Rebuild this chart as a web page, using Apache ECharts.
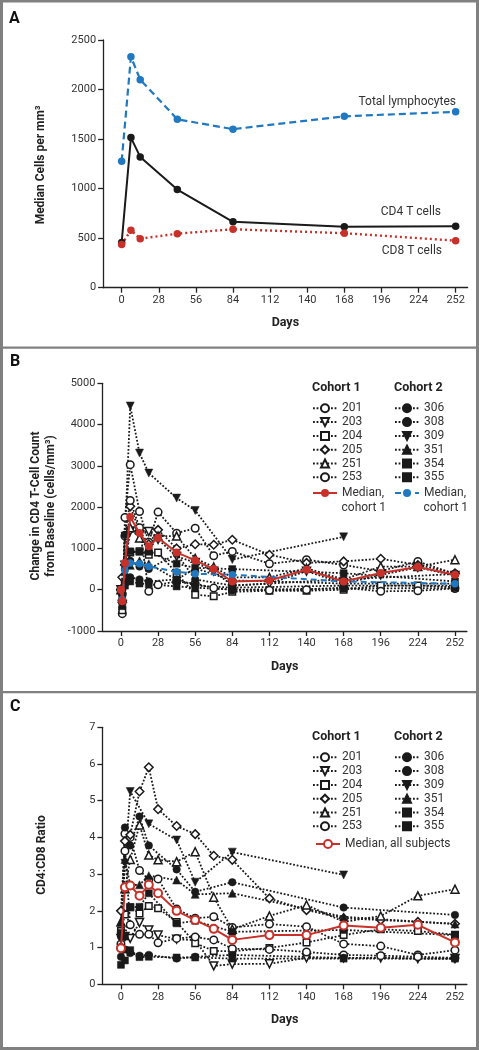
<!DOCTYPE html>
<html><head><meta charset="utf-8">
<script src="https://cdn.jsdelivr.net/npm/echarts@6/dist/echarts.min.js"></script>
<style>html,body{margin:0;padding:0;background:#fff}#c{width:479px;height:1050px}</style>
</head><body><div id="c"></div>
<script>
// ---------- Panel A ----------
const daysA = [0, 7, 14, 42, 84, 168, 252];
const totalLymph = [1275, 2330, 2100, 1700, 1600, 1730, 1775];
const cd4Cells = [455, 1515, 1320, 990, 665, 615, 620];
const cd8Cells = [435, 580, 495, 545, 590, 550, 475];

// ---------- Panel B (change in CD4 count) ----------
const daysB1 = [0, 1, 3, 7, 14, 21, 28, 42, 56, 70, 84, 112, 140, 168, 196, 224, 252];
const daysB2 = [0, 1, 3, 7, 14, 21, 42, 56, 84, 168, 252];
const b201 = [0, -580, 1750, 3030, 1895, 1150, 1880, 1370, 1490, 823, 928, 630, 726, 600, 450, 686, 380];
const b203 = [0, -360, 590, 1420, 1324, 1410, 1220, 806, 660, 450, 100, 150, 450, 150, 358, 540, 346];
const b204 = [0, -500, 200, 900, 930, 850, 900, 400, -120, -160, -50, -25, -25, 0, 100, 100, 60];
const b205 = [0, 300, 600, 2020, 1420, 1100, 1450, 1000, 1100, 1090, 1210, 847, 650, 686, 750, 600, 400];
const b251 = [0, -200, 700, 1500, 1250, 1000, 1300, 1300, 760, 550, 300, 300, 520, 250, 558, 560, 726];
const b253 = [0, -100, 1300, 2160, 1500, -40, 120, 200, 150, 40, 0, -10, 0, 50, -40, -25, 30];
const b306 = [0, -300, 1330, 700, 560, 500, 870, 250, 100, 250, 380];
const b308 = [0, -240, 500, 300, 250, 200, 250, 100, 50, 100, 100];
const b309 = [0, -100, 1300, 4450, 3310, 2825, 2220, 1920, 730, 1280, null];
const b351 = [0, -240, 434, 590, 700, 630, 242, 520, 226, 150, 145];
const b354 = [0, -400, 200, 930, 920, 920, 630, 530, 500, 400, 200];
const b355 = [0, -150, 100, 200, 150, 130, 80, 50, 0, 30, 40];
const medianB1 = [0, -280, 645, 1760, 1372, 1050, 1260, 903, 710, 500, 200, 225, 485, 200, 404, 550, 363];
const medianB2 = [0, -240, 467, 645, 630, 565, 436, 387, 363, 200, 145];

// ---------- Panel C (CD4:CD8 ratio) ----------
const daysC1 = [0, 3, 7, 14, 21, 28, 42, 56, 70, 84, 112, 140, 168, 196, 224, 252];
const daysC2 = [0, 3, 7, 14, 21, 42, 56, 84, 168, 252];
const c201 = [1.1, 4.1, 4.0, 3.1, 2.85, 2.87, 2.05, 1.8, 1.84, 1.55, 1.64, 1.57, 1.1, 1.04, 0.8, 0.93];
const c203 = [1.25, 1.3, 1.25, 1.68, 1.48, 1.34, 1.23, 1.2, 0.5, 0.55, 0.56, 0.72, 0.72, 0.72, 0.7, 0.7];
const c204 = [1.45, 1.9, 2.1, 1.93, 2.13, 2.07, 1.7, 1.12, 0.91, 0.9, 0.99, 1.14, 1.34, 1.5, 1.45, 1.35];
const c205 = [2.0, 3.9, 4.07, 5.25, 5.91, 4.77, 4.31, 4.09, 3.5, 3.39, 2.34, 2.02, 1.8, 1.75, 1.7, 1.65];
const c251 = [1.7, 2.6, 3.4, 4.34, 3.52, 3.39, 3.34, 3.61, 2.37, 1.5, 1.86, 2.16, 1.7, 1.86, 2.41, 2.59];
const c253 = [1.0, 3.63, 1.62, 1.36, 1.36, 1.13, 1.25, 1.29, 1.21, 0.97, 0.95, 0.88, 0.8, 0.78, 0.75, 0.72];
const c306 = [1.3, 4.27, 3.78, 4.57, 3.78, 3.13, 2.52, 2.78, 2.09, 1.89];
const c308 = [0.75, 0.95, 0.85, 0.78, 0.8, 0.7, 0.75, 0.8, 0.72, 0.7];
const c309 = [1.3, 3.3, 5.25, null, 4.37, 3.93, 2.78, 3.6, 2.98, null];
const c351 = [1.7, 3.4, 2.7, 2.71, 2.96, 2.84, 2.45, 2.48, 1.84, 1.64];
const c354 = [1.4, 1.3, 2.1, 2.11, 2.48, 1.66, 1.73, 1.43, 1.48, 1.34];
const c355 = [0.53, 0.65, 0.93, 0.74, 0.75, 0.73, 0.73, 0.70, 0.70, 0.70];
const medianC = [0.98, 2.64, 2.69, 2.41, 2.71, 2.48, 2.0, 1.75, 1.51, 1.21, 1.34, 1.34, 1.60, 1.54, 1.62, 1.14];

const xTicks = [0, 28, 56, 84, 112, 140, 168, 196, 224, 252];
const cohort1Names = ['201', '203', '204', '205', '251', '253'];
const cohort2Names = ['306', '308', '309', '351', '354', '355'];

// ---------- styling ----------
const FONT = 'Roboto';
const BLUE = '#1f78c0';
const RED = '#c8312a';
const INK = '#1a1a1a';
const symbolStyle = {
  '201': {symbol: 'circle', size: 7.5, open: true},
  '203': {symbol: 'triangle', size: 8, open: true, rot: 180},
  '204': {symbol: 'rect', size: 6.5, open: true},
  '205': {symbol: 'diamond', size: 8.5, open: true},
  '251': {symbol: 'triangle', size: 8, open: true},
  '253': {symbol: 'circle', size: 7.5, open: true},
  '306': {symbol: 'circle', size: 7.5},
  '308': {symbol: 'circle', size: 7.5},
  '309': {symbol: 'triangle', size: 8, rot: 180},
  '351': {symbol: 'triangle', size: 8},
  '354': {symbol: 'rect', size: 7},
  '355': {symbol: 'rect', size: 7}
};

function pairs(days, vals) {
  const out = [];
  for (let i = 0; i < days.length; i++) if (vals[i] !== null && vals[i] !== undefined) out.push([days[i], vals[i]]);
  return out;
}
function subjSeries(name, idx, days, vals) {
  const s = symbolStyle[name];
  return {
    name, type: 'line', xAxisIndex: idx, yAxisIndex: idx,
    data: pairs(days, vals),
    symbol: s.symbol, symbolSize: s.size, symbolRotate: s.rot || 0,
    showAllSymbol: true,
    lineStyle: {color: INK, width: 1.8, type: [1.8, 1.8]},
    itemStyle: s.open ? {color: '#fff', borderColor: INK, borderWidth: 1.5} : {color: INK, borderColor: INK, borderWidth: 0.5},
    z: 2, silent: true
  };
}

const series = [
  {name: 'Total lymphocytes', type: 'line', xAxisIndex: 0, yAxisIndex: 0, data: pairs(daysA, totalLymph),
   symbol: 'circle', symbolSize: 7.5, lineStyle: {color: BLUE, width: 2.2, type: [7, 4]}, itemStyle: {color: BLUE}},
  {name: 'CD4 T cells', type: 'line', xAxisIndex: 0, yAxisIndex: 0, data: pairs(daysA, cd4Cells),
   symbol: 'circle', symbolSize: 7.5, lineStyle: {color: INK, width: 2}, itemStyle: {color: INK}},
  {name: 'CD8 T cells', type: 'line', xAxisIndex: 0, yAxisIndex: 0, data: pairs(daysA, cd8Cells),
   symbol: 'circle', symbolSize: 7.5, lineStyle: {color: RED, width: 2.4, type: [2, 3]}, itemStyle: {color: RED}}
];
const bData1 = [b201, b203, b204, b205, b251, b253];
const bData2 = [b306, b308, b309, b351, b354, b355];
const cData1 = [c201, c203, c204, c205, c251, c253];
const cData2 = [c306, c308, c309, c351, c354, c355];
cohort1Names.forEach((n, i) => series.push(subjSeries(n, 1, daysB1, bData1[i])));
cohort2Names.forEach((n, i) => series.push(subjSeries(n, 1, daysB2, bData2[i])));
series.push({name: 'medB2', type: 'line', xAxisIndex: 1, yAxisIndex: 1, data: pairs(daysB2, medianB2),
  symbol: 'circle', symbolSize: 7.5, lineStyle: {color: BLUE, width: 2, type: [6, 4]}, itemStyle: {color: BLUE}, z: 4});
series.push({name: 'medB1', type: 'line', xAxisIndex: 1, yAxisIndex: 1, data: pairs(daysB1, medianB1),
  symbol: 'circle', symbolSize: 8, lineStyle: {color: RED, width: 2}, itemStyle: {color: RED}, z: 5});
cohort1Names.forEach((n, i) => series.push(subjSeries(n, 2, daysC1, cData1[i])));
cohort2Names.forEach((n, i) => series.push(subjSeries(n, 2, daysC2, cData2[i])));
series.push({name: 'medC', type: 'line', xAxisIndex: 2, yAxisIndex: 2, data: pairs(daysC1, medianC),
  symbol: 'circle', symbolSize: 8, lineStyle: {color: RED, width: 2}, itemStyle: {color: '#fff', borderColor: RED, borderWidth: 2}, z: 5});

const grids = [
  {left: 103.1, top: 40, width: 364.5, height: 247.7},
  {left: 102.4, top: 383.3, width: 364.5, height: 247.7},
  {left: 102.4, top: 727.3, width: 364.5, height: 257}
];
const yRanges = [
  {min: 0, max: 2500, interval: 500},
  {min: -1000, max: 5000, interval: 1000},
  {min: 0, max: 7, interval: 1}
];
const axisLineStyle = {color: '#222', width: 1.3};
const xAxes = grids.map((g, i) => ({
  gridIndex: i, type: 'value', min: -14, max: 261,
  axisLine: {show: true, onZero: false, lineStyle: axisLineStyle},
  axisTick: {show: true, customValues: xTicks, length: 5, lineStyle: axisLineStyle},
  axisLabel: {customValues: xTicks, margin: 7, fontFamily: FONT, fontSize: 11, color: '#333', formatter: v => String(v)},
  splitLine: {show: false},
  name: 'Days', nameLocation: 'middle', nameGap: 29,
  nameTextStyle: {fontFamily: FONT, fontWeight: 'bold', fontSize: 12.5, color: '#222'}
}));
const yAxes = yRanges.map((r, i) => ({
  gridIndex: i, type: 'value', min: r.min, max: r.max, interval: r.interval,
  axisLine: {show: true, onZero: false, lineStyle: axisLineStyle},
  axisTick: {show: true, length: 5, lineStyle: axisLineStyle},
  axisLabel: {margin: 7, fontFamily: FONT, fontSize: 11, color: '#333', formatter: v => String(v)},
  splitLine: {show: false}
}));

const legendText = {fontFamily: FONT, fontSize: 12, color: '#333', lineHeight: 12};
function mkLegend(names, left, top, fmt) {
  const l = {orient: 'vertical', left, top, padding: 0, itemWidth: 24, itemHeight: 10, itemGap: 1.8,
    data: names, selectedMode: false, textStyle: legendText};
  if (fmt) l.formatter = fmt;
  return l;
}
const legends = [
  mkLegend(cohort1Names, 312, 402.3),
  mkLegend(cohort2Names, 394, 402.3),
  mkLegend(['medB1'], 312, 487, () => 'Median,'),
  mkLegend(['medB2'], 394, 487, () => 'Median,'),
  mkLegend(cohort1Names, 312, 751.3),
  mkLegend(cohort2Names, 394, 751.3),
  mkLegend(['medC'], 315, 838, () => 'Median, all subjects')
];

function txt(text, x, y, font, opts) {
  opts = opts || {};
  return {type: 'text', x, y, rotation: opts.rot || 0, z: 10, silent: true,
    style: {text, font, fill: opts.fill || '#222', align: opts.align || 'left', verticalAlign: 'middle',
      textAlign: opts.align || 'left', textVerticalAlign: 'middle'}};
}
const FRAME = '#808080';
const graphics = [
  {type: 'rect', shape: {x: 1.5, y: 1, width: 476, height: 1047.5}, style: {fill: 'none', stroke: FRAME, lineWidth: 3}, z: 10, silent: true},
  {type: 'line', shape: {x1: 0, y1: 347.7, x2: 479, y2: 347.7}, style: {stroke: FRAME, lineWidth: 2.2}, z: 10, silent: true},
  {type: 'line', shape: {x1: 0, y1: 692.2, x2: 479, y2: 692.2}, style: {stroke: FRAME, lineWidth: 2.2}, z: 10, silent: true},
  txt('A', 9, 19, 'bold 16px ' + FONT, {fill: '#111'}),
  txt('B', 10, 362, 'bold 16px ' + FONT, {fill: '#111'}),
  txt('C', 10, 707, 'bold 16px ' + FONT, {fill: '#111'}),
  txt('Median Cells per mm³', 41, 165, 'bold 12px ' + FONT, {align: 'center', rot: Math.PI / 2}),
  txt('Change in CD4 T-Cell Count', 35.5, 506, 'bold 12px ' + FONT, {align: 'center', rot: Math.PI / 2}),
  txt('from Baseline (cells/mm³)', 50.5, 506, 'bold 12px ' + FONT, {align: 'center', rot: Math.PI / 2}),
  txt('CD4:CD8 Ratio', 42, 855, 'bold 12px ' + FONT, {align: 'center', rot: Math.PI / 2}),
  txt('Total lymphocytes', 456, 102, '12px ' + FONT, {align: 'right', fill: '#333'}),
  txt('CD4 T cells', 441, 212, '12px ' + FONT, {align: 'right', fill: '#333'}),
  txt('CD8 T cells', 442, 251, '12px ' + FONT, {align: 'right', fill: '#333'}),
  txt('Cohort 1', 312, 388, 'bold 12.5px ' + FONT, {fill: '#222'}),
  txt('Cohort 2', 394, 388, 'bold 12.5px ' + FONT, {fill: '#222'}),
  txt('cohort 1', 341.5, 508, '12px ' + FONT, {fill: '#333'}),
  txt('cohort 1', 423.5, 508, '12px ' + FONT, {fill: '#333'}),
  txt('Cohort 1', 312, 737, 'bold 12.5px ' + FONT, {fill: '#222'}),
  txt('Cohort 2', 394, 737, 'bold 12.5px ' + FONT, {fill: '#222'})
];

const chart = echarts.init(document.getElementById('c'), null, {renderer: 'canvas'});
chart.setOption({
  animation: false,
  backgroundColor: '#fff',
  textStyle: {fontFamily: FONT},
  grid: grids,
  xAxis: xAxes,
  yAxis: yAxes,
  legend: legends,
  series: series,
  graphic: graphics
});
</script></body></html>
